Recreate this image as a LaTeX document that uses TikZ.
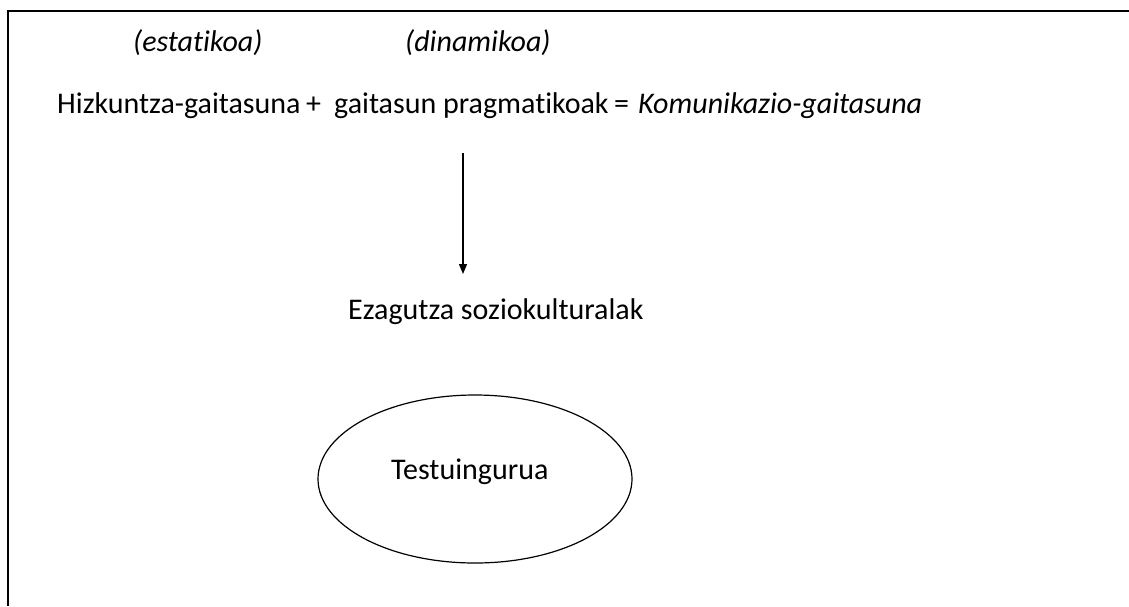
\documentclass[tikz,border=0pt]{standalone}
\usepackage{fontspec}
\setmainfont{Carlito}[Ligatures=NoCommon]
\usetikzlibrary{arrows.meta,shapes.geometric}
\begin{document}
\begin{tikzpicture}[x=1pt,y=-1pt,
  txt/.style={anchor=base west,inner sep=0pt,font=\fontsize{30}{36}\selectfont},
  itxt/.style={txt,font=\fontsize{30}{36}\selectfont\itshape},
  framel/.style={line width=2pt},
  conn/.style={line width=1.3pt,-{Triangle[width=8pt,length=10pt]}}]
\useasboundingbox (0,0) rectangle (1129,606);
\coordinate (tl) at (8,10.5);
\coordinate (tr) at (1129,10.5);
\coordinate (bl) at (8,606);
\draw[framel] (tr) -- (tl) -- (bl);
\node[itxt] (stat) at (133,51) {(estatikoa)};
\node[itxt] (dyn) at (405,51) {(dinamikoa)};
\node[txt] (hiz) at (57,113) {Hizkuntza-gaitasuna};
\node[txt] (plus) at (306,113) {+};
\node[txt] (prag) at (334,113) {gaitasun pragmatikoak};
\node[txt] (eq) at (614,113) {=};
\node[itxt] (kom) at (638,113) {Komunikazio-gaitasuna};
\node[txt] (eza) at (348,319) {Ezagutza soziokulturalak};
\node[draw,ellipse,line width=1.2pt,minimum width=314pt,minimum height=168pt,inner sep=0pt] (ell) at (475,479) {};
\node[txt] (tes) at (391,479) {Testuingurua};
\coordinate (a1) at (463,153);
\coordinate (a2) at (463,274);
\draw[conn] (a1) -- (a2);
\end{tikzpicture}
\end{document}
